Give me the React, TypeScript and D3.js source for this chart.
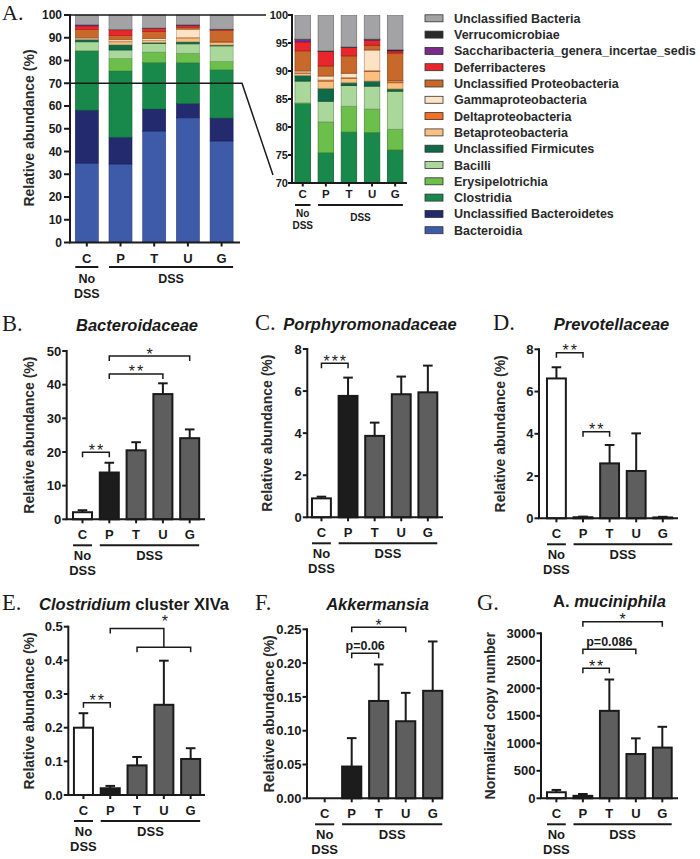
import React from "react";
import * as d3 from "d3";

const SANS = "'Liberation Sans', Arial, Helvetica, sans-serif";
const SERIF = "'Liberation Serif', 'Times New Roman', serif";

// ---------- Panel A data ----------
const groups = ["C", "P", "T", "U", "G"];
const classNames = [
  "Bacteroidia",
  "Unclassified Bacteroidetes",
  "Clostridia",
  "Erysipelotrichia",
  "Bacilli",
  "Unclassified Firmicutes",
  "Betaproteobacteria",
  "Deltaproteobacteria",
  "Gammaproteobacteria",
  "Unclassified Proteobacteria",
  "Deferribacteres",
  "Saccharibacteria_genera_incertae_sedis",
  "Verrucomicrobiae",
  "Unclassified Bacteria",
];
const classColors = [
  "#3d5ba9", "#232a6e", "#18894a", "#6cbf4a", "#aad89b", "#0f6a48",
  "#fbc080", "#f36f22", "#fde2c4", "#c8692b", "#e8262b", "#7c2b8c",
  "#2a2a2a", "#a3a3a6",
];
// values per group C, P, T, U, G (%)
const bacteroidia = [34.9, 34.5, 49.0, 54.8, 44.6];
const uncBacteroidetes = [23.3, 11.8, 9.7, 6.3, 10.1];
const clostridia = [26.0, 29.1, 20.4, 17.9, 21.2];
const erysipelotrichia = [0.1, 5.5, 4.6, 4.2, 3.7];
const bacilli = [3.9, 3.7, 3.7, 4.1, 6.8];
const uncFirmicutes = [1.0, 2.3, 0.5, 0.9, 0.4];
const betaproteo = [0.4, 1.3, 0.8, 1.7, 1.1];
const deltaproteo = [0.1, 0.2, 0.15, 0.2, 0.3];
const gammaproteo = [0.3, 0.7, 0.75, 3.65, 0.1];
const uncProteo = [3.6, 1.8, 3.1, 0.85, 4.9];
const deferribacteres = [1.6, 2.6, 1.5, 0.9, 0.4];
const saccharibacteria = [0.45, 0.0, 0.0, 0.1, 0.05];
const verrucomicrobiae = [0.05, 0.1, 0.1, 0.1, 0.15];
const uncBacteria = [4.3, 6.4, 5.7, 4.3, 6.2];
const composition = [
  bacteroidia, uncBacteroidetes, clostridia, erysipelotrichia, bacilli, uncFirmicutes,
  betaproteo, deltaproteo, gammaproteo, uncProteo, deferribacteres, saccharibacteria,
  verrucomicrobiae, uncBacteria,
];
const mainTicks = [0, 10, 20, 30, 40, 50, 60, 70, 80, 90, 100];
const insetTicks = [70, 75, 80, 85, 90, 95, 100];

// ---------- Panels B–G data ----------
const bMeans = [2.1, 13.9, 20.5, 37.2, 24.1];
const bErrs = [0.6, 2.9, 2.4, 3.2, 2.6];
const bTicks = [0, 10, 20, 30, 40, 50];

const cMeans = [0.9, 5.77, 3.87, 5.85, 5.94];
const cErrs = [0.08, 0.87, 0.63, 0.84, 1.27];
const cTicks = [0, 2, 4, 6, 8];

const dMeans = [6.62, 0.05, 2.6, 2.24, 0.04];
const dErrs = [0.53, 0.03, 0.87, 1.78, 0.03];
const dTicks = [0, 2, 4, 6, 8];

const eMeans = [0.2, 0.02, 0.088, 0.268, 0.107];
const eErrs = [0.043, 0.007, 0.025, 0.131, 0.032];
const eTicks = [0, 0.1, 0.2, 0.3, 0.4, 0.5];

const fMeans = [0, 0.047, 0.144, 0.114, 0.159];
const fErrs = [0, 0.042, 0.054, 0.042, 0.073];
const fTicks = [0, 0.05, 0.1, 0.15, 0.2, 0.25];

const gMeans = [110, 45, 1590, 805, 922];
const gErrs = [42, 33, 570, 285, 378];
const gTicks = [0, 500, 1000, 1500, 2000, 2500, 3000];

const barFills = ["#ffffff", "#1c1c1c", "#5e5e5e", "#5e5e5e", "#5e5e5e"];

type Bracket = { from: number; to: number; at: number; label: string; kind: "star" | "text" };

const bBrackets: Bracket[] = [
  { from: 0, to: 1, at: 19.9, label: "**", kind: "star" },
  { from: 1, to: 3, at: 43.2, label: "**", kind: "star" },
  { from: 1, to: 4, at: 48.5, label: "*", kind: "star" },
];
const cBrackets: Bracket[] = [{ from: 0, to: 1, at: 7.32, label: "***", kind: "star" }];
const dBrackets: Bracket[] = [
  { from: 0, to: 1, at: 7.84, label: "**", kind: "star" },
  { from: 1, to: 2, at: 4.1, label: "**", kind: "star" },
];
const eBrackets: Bracket[] = [{ from: 0, to: 1, at: 0.274, label: "**", kind: "star" }];
const fBrackets: Bracket[] = [
  { from: 1, to: 2, at: 0.2145, label: "p=0.06", kind: "text" },
  { from: 1, to: 3, at: 0.253, label: "*", kind: "star" },
];
const gBrackets: Bracket[] = [
  { from: 1, to: 2, at: 2364, label: "**", kind: "star" },
  { from: 1, to: 3, at: 2709, label: "p=0.086", kind: "text" },
  { from: 1, to: 4, at: 3211, label: "*", kind: "star" },
];

const INK = "#1a1a1a";

function GroupLabels(props: {
  x: d3.ScaleBand<string>; y0: number; tickDy: number; lineDy: number; noDy: number; dssDy: number;
  groupDy: number; fs: number; fs2: number; lw: number;
}) {
  const { x, y0 } = props;
  const bw = x.bandwidth();
  const cx = (g: string) => (x(g) as number) + bw / 2;
  const cL = x("C") as number;
  const pL = x("P") as number;
  const gR = (x("G") as number) + bw;
  return (
    <g fontWeight="bold" fill={INK} textAnchor="middle">
      {groups.map((g) => (
        <text key={g} x={cx(g)} y={y0 + props.tickDy} fontSize={props.fs}>{g}</text>
      ))}
      <line x1={cL} x2={cL + bw} y1={y0 + props.lineDy} y2={y0 + props.lineDy} stroke={INK} strokeWidth={props.lw} />
      <line x1={pL} x2={gR} y1={y0 + props.lineDy} y2={y0 + props.lineDy} stroke={INK} strokeWidth={props.lw} />
      <text x={cx("C")} y={y0 + props.noDy} fontSize={props.fs2}>No</text>
      <text x={cx("C")} y={y0 + props.dssDy} fontSize={props.fs2}>DSS</text>
      <text x={(pL + gR) / 2} y={y0 + props.groupDy} fontSize={props.fs2}>DSS</text>
    </g>
  );
}

function StackedPanels() {
  const table = groups.map((g, i) => {
    const row: any = { group: g };
    classNames.forEach((c, k) => (row[c] = composition[k][i]));
    return row;
  });
  const series = d3.stack<any>().keys(classNames)(table);

  const x = d3.scaleBand().domain(groups).range([70, 238.4]).paddingInner(0.317).paddingOuter(0.157);
  const y = d3.scaleLinear().domain([0, 100]).range([242.5, 15]);
  const xi = d3.scaleBand().domain(groups).range([292, 405.9]).paddingInner(0.33).paddingOuter(0.13);
  const yi = d3.scaleLinear().domain([70, 100]).range([183, 15]);

  const segs = (xs: d3.ScaleBand<string>, ys: d3.ScaleLinear<number, number>, sw: number) =>
    series.map((s, k) =>
      s.map((d, i) => {
        const h = ys(d[0]) - ys(d[1]);
        if (h <= 0) return null;
        const col = classColors[k];
        return (
          <rect
            key={`${k}-${i}`}
            x={xs(groups[i])}
            y={ys(d[1])}
            width={xs.bandwidth()}
            height={h}
            fill={col}
            stroke={d3.color(col)!.darker(0.9).toString()}
            strokeWidth={sw}
          />
        );
      })
    );

  const legendNames = [...classNames].reverse();
  const legendColors = [...classColors].reverse();

  return (
    <g>
      <text x={2} y={20} fontFamily={SERIF} fontSize={22} fill={INK}>A.</text>
      {/* main */}
      <g>{segs(x, y, 0.6)}</g>
      {/* zoom guides */}
      <line x1={70} x2={266} y1={y(100)} y2={y(100)} stroke={INK} strokeWidth={1.5} />
      <polyline
        points={`70,${y(70)} 242,${y(70)} 273,175`}
        fill="none"
        stroke={INK}
        strokeWidth={1.5}
      />
      <g stroke={INK} strokeWidth={2}>
        <line x1={70} x2={70} y1={y(100) - 1} y2={y(0)} />
        <line x1={69} x2={240} y1={y(0)} y2={y(0)} />
        {mainTicks.map((t) => (
          <line key={t} x1={64} x2={70} y1={y(t)} y2={y(t)} />
        ))}
        {groups.map((g) => (
          <line key={g} x1={(x(g) as number) + x.bandwidth() / 2} x2={(x(g) as number) + x.bandwidth() / 2} y1={y(0)} y2={y(0) + 4} />
        ))}
      </g>
      <g fontSize={12} fontWeight="bold" fill={INK} textAnchor="end">
        {mainTicks.map((t) => (
          <text key={t} x={62} y={y(t) + 4.3}>{t}</text>
        ))}
      </g>
      <text
        transform={`translate(29,128) rotate(-90)`}
        textAnchor="middle"
        dominantBaseline="central"
        fontSize={14}
        fontWeight="bold"
        fill="#2a2a2a"
      >
        Relative abundance (%)
      </text>
      <GroupLabels x={x} y0={y(0)} tickDy={20.5} lineDy={24.5} noDy={40} dssDy={55} groupDy={40} fs={13} fs2={12.5} lw={2} />

      {/* inset */}
      <clipPath id="insetClip">
        <rect x={290} y={yi(100)} width={120} height={yi(70) - yi(100)} />
      </clipPath>
      <g clipPath="url(#insetClip)">{segs(xi, yi, 0.8)}</g>
      <g stroke={INK} strokeWidth={2}>
        <line x1={292} x2={292} y1={yi(100) - 1} y2={yi(70)} />
        <line x1={291} x2={407} y1={yi(70)} y2={yi(70)} />
        {insetTicks.map((t) => (
          <line key={t} x1={288} x2={292} y1={yi(t)} y2={yi(t)} />
        ))}
        {groups.map((g) => (
          <line key={g} x1={(xi(g) as number) + xi.bandwidth() / 2} x2={(xi(g) as number) + xi.bandwidth() / 2} y1={yi(70)} y2={yi(70) + 3.5} />
        ))}
      </g>
      <g fontSize={11} fontWeight="bold" fill={INK} textAnchor="end">
        {insetTicks.map((t) => (
          <text key={t} x={288} y={yi(t) + 4}>{t}</text>
        ))}
      </g>
      <GroupLabels x={xi} y0={yi(70)} tickDy={15} lineDy={22} noDy={34} dssDy={46} groupDy={38} fs={11.5} fs2={10} lw={2} />

      {/* legend */}
      {legendNames.map((n, i) => {
        const cy = 18.3 + i * 16.3;
        return (
          <g key={n}>
            <rect x={425} y={cy - 3.5} width={18} height={7} fill={legendColors[i]} stroke="#333" strokeWidth={0.8} />
            <text x={454} y={cy + 4.5} fontSize={12.5} fontWeight="bold" fill="#2a2a2a">{n}</text>
          </g>
        );
      })}
    </g>
  );
}

function BarPanel(p: {
  axisX: number; axisEnd: number; rangeEnd: number; po: number; y0: number; yTop: number; max: number;
  ticks: number[]; fmt: (v: number) => string; means: number[]; errs: number[]; brackets: Bracket[];
  title: React.ReactNode; titleX: number; titleY: number; titleDy?: number; letter: string; letterX: number;
  ylabel: string; ylabelX: number; extra?: (x: (i: number) => number, y: d3.ScaleLinear<number, number>) => React.ReactNode;
}) {
  const x = d3.scaleBand().domain(groups).range([p.axisX, p.rangeEnd]).paddingInner(0.29).paddingOuter(p.po);
  const y = d3.scaleLinear().domain([0, p.max]).range([p.y0, p.yTop]);
  const bw = x.bandwidth();
  const cx = (i: number) => (x(groups[i]) as number) + bw / 2;
  const cap = 4.8;
  return (
    <g>
      <text x={p.letterX} y={p.titleY} fontFamily={SERIF} fontSize={22.5} fill={INK}>{p.letter}</text>
      <text x={p.titleX} y={p.titleY + (p.titleDy || 0)} textAnchor="middle" fontSize={16.5} fontWeight="bold" fill={INK}>{p.title}</text>
      <text
        transform={`translate(${p.ylabelX},${(p.y0 + p.yTop) / 2}) rotate(-90)`}
        textAnchor="middle"
        dominantBaseline="central"
        fontSize={14}
        fontWeight="bold"
        fill="#2a2a2a"
      >
        {p.ylabel}
      </text>
      {/* error bars */}
      <g stroke={INK} strokeWidth={2}>
        {p.means.map((m, i) =>
          p.errs[i] > 0 ? (
            <g key={i}>
              <line x1={cx(i)} x2={cx(i)} y1={y(m)} y2={y(m + p.errs[i])} />
              <line x1={cx(i) - cap} x2={cx(i) + cap} y1={y(m + p.errs[i])} y2={y(m + p.errs[i])} />
            </g>
          ) : null
        )}
      </g>
      {/* bars */}
      {p.means.map((m, i) =>
        m > 0 ? (
          <rect key={i} x={x(groups[i])} y={y(m)} width={bw} height={p.y0 - y(m)} fill={barFills[i]} stroke={INK} strokeWidth={2} />
        ) : null
      )}
      {/* axes */}
      <g stroke={INK} strokeWidth={2}>
        <line x1={p.axisX} x2={p.axisX} y1={p.yTop - 1} y2={p.y0} />
        <line x1={p.axisX - 1} x2={p.axisEnd} y1={p.y0} y2={p.y0} />
        {p.ticks.map((t) => (
          <line key={t} x1={p.axisX - 4.5} x2={p.axisX} y1={y(t)} y2={y(t)} />
        ))}
        {groups.map((g, i) => (
          <line key={g} x1={cx(i)} x2={cx(i)} y1={p.y0} y2={p.y0 + 4} />
        ))}
      </g>
      <g fontSize={13} fontWeight="bold" fill={INK} textAnchor="end">
        {p.ticks.map((t) => (
          <text key={t} x={p.axisX - 5.5} y={y(t) + 4.6}>{p.fmt(t)}</text>
        ))}
      </g>
      {/* significance brackets */}
      <g>
        {p.brackets.map((b, k) => {
          const by = y(b.at);
          const x1 = cx(b.from);
          const x2 = cx(b.to);
          return (
            <g key={k}>
              <path d={`M${x1},${by + 5} V${by} H${x2} V${by + 5}`} fill="none" stroke={INK} strokeWidth={1.5} />
              {b.kind === "star" ? (
                <text x={(x1 + x2) / 2 + 1} y={by + 3.5} textAnchor="middle" fontSize={16} letterSpacing={2} fill={INK}>{b.label}</text>
              ) : (
                <text x={(x1 + x2) / 2} y={by - 3} textAnchor="middle" fontSize={12.5} fontWeight="bold" fill={INK}>{b.label}</text>
              )}
            </g>
          );
        })}
      </g>
      {p.extra ? p.extra(cx, y) : null}
      <GroupLabels x={x} y0={p.y0} tickDy={20} lineDy={26} noDy={41} dssDy={56} groupDy={41} fs={13} fs2={13} lw={2} />
    </g>
  );
}

const fmtInt = (v: number) => d3.format("d")(v);
const fmt1 = (v: number) => d3.format(".1f")(v);
const fmt2 = (v: number) => d3.format(".2f")(v);

export default function App() {
  return (
    <svg
      width={700}
      height={859}
      viewBox="0 0 700 859"
      style={{ position: "absolute", left: 0, top: 0, display: "block", background: "#fff" }}
      fontFamily={SANS}
    >
      <rect width={700} height={859} fill="#fff" />
      <StackedPanels />

      <BarPanel
        axisX={66.7} axisEnd={205} rangeEnd={205.5} po={0.235} y0={519.3} yTop={351} max={50}
        ticks={bTicks} fmt={fmtInt} means={bMeans} errs={bErrs} brackets={bBrackets}
        title={<tspan fontStyle="italic">Bacteroidaceae</tspan>} titleX={137} titleY={331}
        letter="B." letterX={2} ylabel="Relative abundance (%)" ylabelX={28.5}
      />
      <BarPanel
        axisX={307.3} axisEnd={443} rangeEnd={442} po={0.177} y0={517.3} yTop={349} max={8}
        ticks={cTicks} fmt={fmtInt} means={cMeans} errs={cErrs} brackets={cBrackets}
        title={<tspan fontStyle="italic">Porphyromonadaceae</tspan>} titleX={370} titleY={330}
        letter="C." letterX={255} ylabel="Relative abundance (%)" ylabelX={266.5}
      />
      <BarPanel
        axisX={539} axisEnd={678} rangeEnd={680.2} po={0.3} y0={518.3} yTop={349.3} max={8}
        ticks={dTicks} fmt={fmtInt} means={dMeans} errs={dErrs} brackets={dBrackets}
        title={<tspan fontStyle="italic">Prevotellaceae</tspan>} titleX={611.5} titleY={330}
        letter="D." letterX={493} ylabel="Relative abundance (%)" ylabelX={500}
      />
      <BarPanel
        axisX={68.3} axisEnd={205} rangeEnd={205.8} po={0.21} y0={795} yTop={626.7} max={0.5}
        ticks={eTicks} fmt={fmt1} means={eMeans} errs={eErrs} brackets={eBrackets}
        title={<><tspan fontStyle="italic">Clostridium</tspan><tspan> cluster XIVa</tspan></>}
        titleX={134} titleY={610}
        letter="E." letterX={2} ylabel="Relative abundance (%)" ylabelX={28.5}
        extra={(cx, y) => {
          const top = y(0.495);
          const low = y(0.439);
          const mid = cx(3);
          return (
            <g fill="none" stroke={INK} strokeWidth={1.5}>
              <path d={`M${cx(1)},${top + 5} V${top} H${mid} V${low}`} />
              <path d={`M${cx(2)},${low + 5} V${low} H${cx(4)} V${low + 5}`} />
              <text x={mid + 1} y={top - 1} textAnchor="middle" fontSize={16} fill={INK} stroke="none">*</text>
            </g>
          );
        }}
      />
      <BarPanel
        axisX={307} axisEnd={443} rangeEnd={450.4} po={0.3} y0={798.3} yTop={629.3} max={0.25}
        ticks={fTicks} fmt={fmt2} means={fMeans} errs={fErrs} brackets={fBrackets}
        title={<tspan fontStyle="italic">Akkermansia</tspan>} titleX={377.5} titleY={610}
        letter="F." letterX={255} ylabel="Relative abundance (%)" ylabelX={269}
      />
      <BarPanel
        axisX={541} axisEnd={678} rangeEnd={677.7} po={0.226} y0={798.3} yTop={633.3} max={3000}
        ticks={gTicks} fmt={fmtInt} means={gMeans} errs={gErrs} brackets={gBrackets}
        title={<><tspan>A. </tspan><tspan fontStyle="italic">muciniphila</tspan></>} titleX={609.5} titleY={610} titleDy={-3}
        letter="G." letterX={477} ylabel="Normalized copy number" ylabelX={489.5}
      />
    </svg>
  );
}
